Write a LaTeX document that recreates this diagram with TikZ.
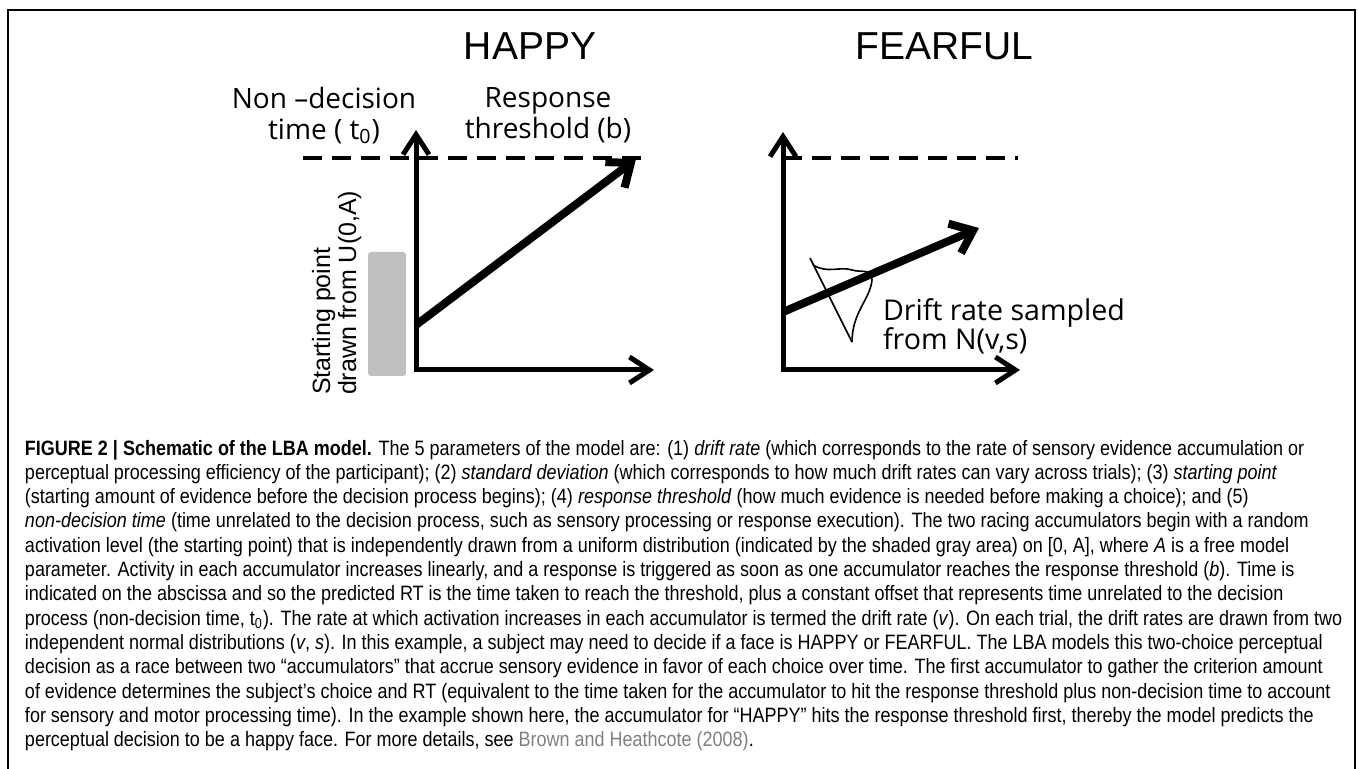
\documentclass[tikz,border=0pt]{standalone}
\usepackage{fontspec}
\setmainfont{Liberation Sans}
\newfontfamily\capfont[FakeStretch=0.865]{Liberation Sans}
\newfontfamily\labfont{Open Sans}
\usetikzlibrary{calc,arrows.meta}

\definecolor{refgray}{RGB}{128,128,128}
\definecolor{bargray}{RGB}{191,191,191}

\tikzset{
  axisline/.style={line width=2.5pt, {Straight Barb[length=10pt,width=13pt]}-{Straight Barb[length=10pt,width=13pt]}},
  driftline/.style={line width=4pt, -{Straight Barb[length=10pt,width=16pt]}},
  threshline/.style={line width=2pt, dash pattern=on 9.5pt off 5pt},
  sketchline/.style={line width=0.8pt, line join=round},
  paneltitle/.style={font=\fontsize{19.5}{22}\selectfont},
  axlabel/.style={font=\labfont\fontsize{14}{15.5}\selectfont, align=center},
  capline/.style={anchor=base west, font=\capfont\fontsize{10.4}{12.15}\selectfont},
}

\begin{document}
\begin{tikzpicture}[inner sep=0pt, outer sep=0pt, x=0.5pt, y=-0.5pt]
    \useasboundingbox (0,0) rectangle (1358,769);

    % frame
    \draw[line width=1pt] (8,769) -- (8,10) -- (1355,10) -- (1355,769);

    % titles
    \node[paneltitle, anchor=base] (happy) at (530,60) {HAPPY};
    \node[paneltitle, anchor=base] (fearful) at (944,60) {FEARFUL};

    % happy panel
    \coordinate (hO) at (416,370);
    \coordinate (hY) at (416,130);
    \coordinate (hX) at (654,370);
    \coordinate (hB0) at (303,158);
    \coordinate (hB1) at (650,158);
    \coordinate (hD0) at (416,325);
    \coordinate (hD1) at (636,159);

    \fill[bargray, rounded corners=1.5pt] (368,252) rectangle (406,376);
    \draw[threshline] (hB0) -- (hB1);
    \draw[axisline] (hY) -- (hO) -- (hX);
    \draw[driftline] (hD0) -- (hD1);

    \node[axlabel, anchor=north] (nondec) at (324,87)
    {Non –decision\\time ( t\textsubscript{0})};
    \node[axlabel, anchor=north] (thresh) at (548,88)
    {Response\\threshold (b)};
    \node[rotate=90, anchor=north west, align=left,
          font=\fontsize{12.5}{13}\selectfont] (startpt) at (312,395)
    {Starting point\\drawn from U(0,A)};

    % fearful panel
    \coordinate (fO) at (783,370);
    \coordinate (fY) at (783,132);
    \coordinate (fX) at (1020,370);
    \coordinate (fB0) at (783,158);
    \coordinate (fB1) at (1018,158);
    \coordinate (fD0) at (783,312);
    \coordinate (fD1) at (979,228);

    \draw[threshline] (fB0) -- (fB1);
    \draw[axisline] (fY) -- (fO) -- (fX);
    \draw[driftline] (fD0) -- (fD1);

    % sampled distribution
    \draw[sketchline] (810,258) -- (852,342);
    \draw[sketchline] (813,265) .. controls (828,274) and (840,266) .. (852,270)
        .. controls (862,273) and (872,268) .. (872,280)
        .. controls (870,300) and (852,312) .. (852,342);

    \node[axlabel, align=left, anchor=north west,
          font=\labfont\fontsize{14.3}{14.5}\selectfont] (driftlab) at (883,299)
    {Drift rate sampled\\from N(v,s)};

    % caption
    \node[capline] (cap1) at (25,455)
    {{\bfseries FIGURE 2 | Schematic of the LBA model.} The 5 parameters of the model are: (1) \textit{drift rate} (which corresponds to the rate of sensory evidence accumulation or};
    \node[capline] (cap2) at ($(cap1.base west)+(0,24.3)$)
    {perceptual processing efficiency of the participant); (2) \textit{standard deviation} (which corresponds to how much drift rates can vary across trials); (3) \textit{starting point}};
    \node[capline] (cap3) at ($(cap2.base west)+(0,24.3)$)
    {(starting amount of evidence before the decision process begins); (4) \textit{response threshold} (how much evidence is needed before making a choice); and (5)};
    \node[capline] (cap4) at ($(cap3.base west)+(0,24.3)$)
    {\textit{non-decision time} (time unrelated to the decision process, such as sensory processing or response execution). The two racing accumulators begin with a random};
    \node[capline] (cap5) at ($(cap4.base west)+(0,24.3)$)
    {activation level (the starting point) that is independently drawn from a uniform distribution (indicated by the shaded gray area) on [0, A], where \textit{A} is a free model};
    \node[capline] (cap6) at ($(cap5.base west)+(0,24.3)$)
    {parameter. Activity in each accumulator increases linearly, and a response is triggered as soon as one accumulator reaches the response threshold (\textit{b}). Time is};
    \node[capline] (cap7) at ($(cap6.base west)+(0,24.3)$)
    {indicated on the abscissa and so the predicted RT is the time taken to reach the threshold, plus a constant offset that represents time unrelated to the decision};
    \node[capline] (cap8) at ($(cap7.base west)+(0,24.3)$)
    {process (non-decision time, t\textsubscript{0}). The rate at which activation increases in each accumulator is termed the drift rate (\textit{v}). On each trial, the drift rates are drawn from two};
    \node[capline] (cap9) at ($(cap8.base west)+(0,24.3)$)
    {independent normal distributions (\textit{v}, \textit{s}). In this example, a subject may need to decide if a face is HAPPY or FEARFUL. The LBA models this two-choice perceptual};
    \node[capline] (cap10) at ($(cap9.base west)+(0,24.3)$)
    {decision as a race between two “accumulators” that accrue sensory evidence in favor of each choice over time. The first accumulator to gather the criterion amount};
    \node[capline] (cap11) at ($(cap10.base west)+(0,24.3)$)
    {of evidence determines the subject’s choice and RT (equivalent to the time taken for the accumulator to hit the response threshold plus non-decision time to account};
    \node[capline] (cap12) at ($(cap11.base west)+(0,24.3)$)
    {for sensory and motor processing time). In the example shown here, the accumulator for “HAPPY” hits the response threshold first, thereby the model predicts the};
    \node[capline] (cap13) at ($(cap12.base west)+(0,24.3)$)
    {perceptual decision to be a happy face. For more details, see {\color{refgray}Brown and Heathcote (2008)}.};

\end{tikzpicture}
\end{document}
